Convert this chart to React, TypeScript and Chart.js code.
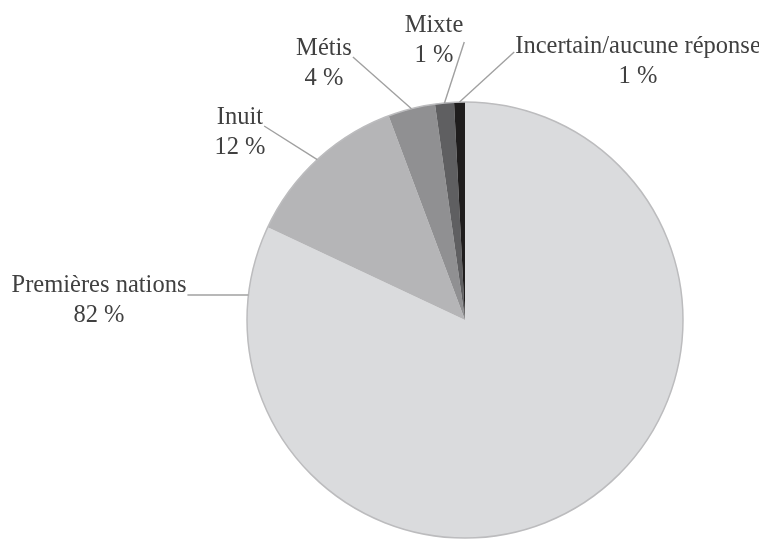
import React, { useEffect, useRef } from "react";
import { Chart, registerables } from "chart.js";

Chart.register(...registerables);

const categories = ["Premières nations", "Inuit", "Métis", "Mixte", "Incertain/aucune réponse"];
const shares = [82, 12.3, 3.5, 1.4, 0.8];
const percentLabels = ["82 %", "12 %", "4 %", "1 %", "1 %"];
const sliceColors = ["#dadbdd", "#b5b5b7", "#909092", "#5f5f61", "#1f1d1d"];

// label placement relative to pie centre (layout only)
const labelLayout = [
  { dx: -366, dy: -28, side: "right", mode: "horizontal", attachDy: 3 },
  { dx: -225, dy: -196, side: "right", mode: "mid", attachDy: 2 },
  { dx: -141, dy: -265, side: "right", mode: "mid", attachDy: 2 },
  { dx: -31, dy: -288, side: "right", mode: "mid", attachDy: 10 },
  { dx: 173, dy: -267, side: "left", mode: "mid", attachDy: -1 },
];

const outsideLabels = {
  id: "outsideLabels",
  afterDatasetsDraw(chart: any) {
    const meta = chart.getDatasetMeta(0);
    const ctx: CanvasRenderingContext2D = chart.ctx;
    ctx.save();
    const first = meta.data[0].getProps(["x", "y", "outerRadius"], true);
    const cx = first.x;
    const cy = first.y;
    const r = first.outerRadius;
    ctx.beginPath();
    ctx.arc(cx, cy, r, 0, Math.PI * 2);
    ctx.strokeStyle = "#bcbcbe";
    ctx.lineWidth = 1.5;
    ctx.stroke();

    ctx.font = '24.5px "Liberation Serif", "DejaVu Serif", serif';
    ctx.textAlign = "center";
    ctx.textBaseline = "alphabetic";
    meta.data.forEach((el: any, i: number) => {
      const p = el.getProps(["x", "y", "startAngle", "endAngle", "outerRadius"], true);
      const lay = labelLayout[i];
      const tx = cx + lay.dx;
      const ty = cy + lay.dy;
      const w = ctx.measureText(categories[i]).width;
      const ax = lay.side === "right" ? tx + w / 2 + 1 : tx - w / 2 - 1;
      const ay = ty + lay.attachDy;
      let ex: number, ey: number;
      if (lay.mode === "horizontal") {
        ey = ay;
        ex = cx - Math.sqrt(Math.max(0, p.outerRadius * p.outerRadius - (ey - cy) * (ey - cy)));
      } else {
        const mid = (p.startAngle + p.endAngle) / 2;
        ex = cx + Math.cos(mid) * p.outerRadius;
        ey = cy + Math.sin(mid) * p.outerRadius;
      }
      ctx.beginPath();
      ctx.moveTo(ax, ay);
      ctx.lineTo(ex, ey);
      ctx.strokeStyle = "#a0a0a0";
      ctx.lineWidth = 1.4;
      ctx.stroke();

      ctx.fillStyle = "#404040";
      ctx.fillText(categories[i], tx, ty);
      ctx.fillText(percentLabels[i], tx, ty + 30);
    });
    ctx.restore();
  },
};

export default function App() {
  const ref = useRef<HTMLCanvasElement | null>(null);
  useEffect(() => {
    if (!ref.current) return;
    const chart = new Chart(ref.current, {
      type: "pie",
      data: {
        labels: categories,
        datasets: [
          {
            data: shares,
            backgroundColor: sliceColors,
            borderWidth: 0,
            hoverOffset: 0,
            offset: 0,
          },
        ],
      },
      options: {
        responsive: false,
        animation: false,
        events: [],
        layout: { padding: { left: 247, right: 76, top: 102, bottom: 22 } },
        plugins: {
          legend: { display: false },
          tooltip: { enabled: false },
        },
      },
      plugins: [outsideLabels],
    });
    return () => chart.destroy();
  }, []);
  return (
    <div
      style={{
        position: "absolute",
        left: 0,
        top: 0,
        width: 759,
        height: 540,
        overflow: "hidden",
        background: "#ffffff",
      }}
    >
      <canvas ref={ref} width={759} height={560} style={{ display: "block" }} />
    </div>
  );
}
